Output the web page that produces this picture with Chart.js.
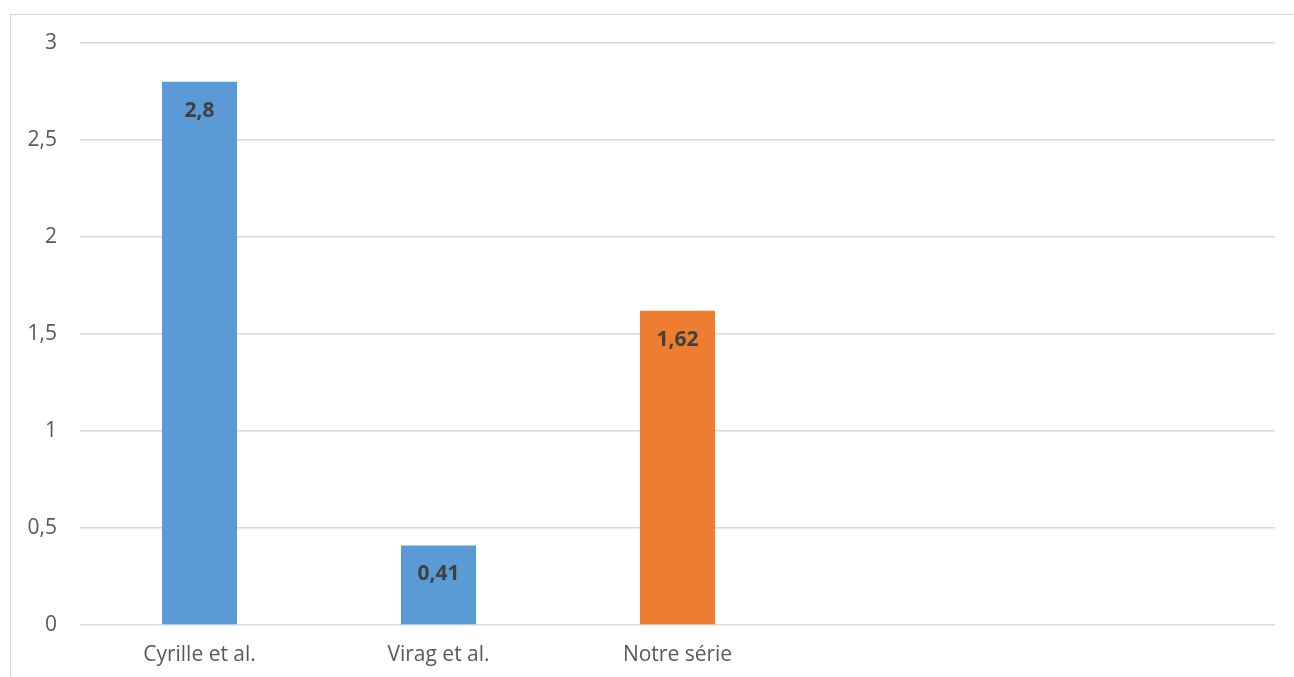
<!DOCTYPE html>
<html>
<head>
<meta charset="utf-8">
<script src="https://cdn.jsdelivr.net/npm/chart.js@4/dist/chart.umd.min.js"></script>
<style>
  html, body { margin: 0; padding: 0; background: #fff; overflow: hidden; }
  #frame { position: absolute; left: 10px; top: 14px; width: 1400px; height: 800px; border: 1px solid #d9d9d9; box-sizing: border-box; }
  #wrap { position: absolute; left: 0; top: 0; width: 1294px; height: 677px; }
</style>
</head>
<body>
<div id="frame"></div>
<div id="wrap"><canvas id="myChart"></canvas></div>
<script>
const labels = ['Cyrille et al.', 'Virag et al.', 'Notre série', '', ''];
const values = [2.8, 0.41, 1.62, null, null];
const barColors = ['#5b9bd5', '#5b9bd5', '#ed7d31', '#5b9bd5', '#5b9bd5'];
const yTicks = [0, 0.5, 1, 1.5, 2, 2.5, 3];

const frNum = v => String(v).replace('.', ',');

// value labels drawn inside the top of each bar
const barLabels = {
    id: 'barLabels',
    afterDatasetsDraw(chart) {
        const ctx = chart.ctx;
        const meta = chart.getDatasetMeta(0);
        ctx.save();
        ctx.font = 'bold 21px "Open Sans"';
        ctx.fillStyle = '#404040';
        ctx.textAlign = 'center';
        ctx.textBaseline = 'alphabetic';
        meta.data.forEach((bar, i) => {
            const v = chart.data.datasets[0].data[i];
            if (v == null) return;
            ctx.fillText(frNum(v), bar.x, bar.y + 35);
        });
        ctx.restore();
    }
};

let data = {
    labels: labels,
    datasets: [{
        data: values,
        backgroundColor: barColors,
        categoryPercentage: 1,
        barPercentage: 0.314
    }]
};

let config = {
    type: 'bar',
    data: data,
    options: {
        responsive: true,
        maintainAspectRatio: false,
        animation: false,
        layout: {
            padding: { left: 10, right: 19, top: 43, bottom: 0 }
        },
        plugins: {
            legend: { display: false },
            tooltip: { enabled: false }
        },
        scales: {
            x: {
                grid: { display: false, drawTicks: false },
                border: { display: false },
                ticks: {
                    padding: 17,
                    color: '#595959',
                    font: { family: 'Open Sans', size: 21 }
                },
                afterFit(scale) { scale.height = 52; }
            },
            y: {
                min: 0,
                max: 3,
                afterBuildTicks(scale) { scale.ticks = yTicks.map(v => ({ value: v })); },
                grid: { color: '#d9d9d9', lineWidth: 1.5, drawTicks: false },
                border: { display: false },
                ticks: {
                    padding: 23,
                    color: '#595959',
                    font: { family: 'Open Sans', size: 21 },
                    callback: v => frNum(v)
                },
                afterFit(scale) { scale.width = 70; }
            }
        }
    },
    plugins: [barLabels]
};

let myChart = new Chart(document.getElementById('myChart'), config);
</script>
</body>
</html>
